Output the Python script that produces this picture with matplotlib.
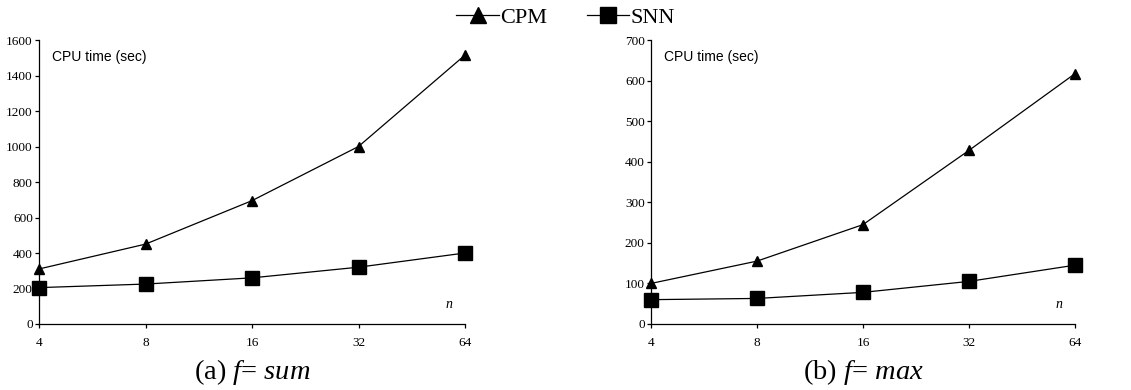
import matplotlib
matplotlib.use("Agg")
import matplotlib.pyplot as plt
from matplotlib.lines import Line2D

n_labels = ["4", "8", "16", "32", "64"]
cpm_sum = [310, 450, 695, 1000, 1515]
snn_sum = [205, 225, 260, 320, 400]
cpm_max = [100, 155, 245, 428, 617]
snn_max = [60, 63, 78, 105, 145]

serif = "Liberation Serif"
sans = "Liberation Sans"
plt.rcParams["mathtext.fontset"] = "custom"
plt.rcParams["mathtext.rm"] = "Liberation Serif"
plt.rcParams["mathtext.it"] = "Liberation Serif:italic"

fig = plt.figure(figsize=(11.31, 3.90), dpi=100)
axA = fig.add_axes([39/1131, 1-324/390, (465-39)/1131, (324-40)/390])
axB = fig.add_axes([651/1131, 1-324/390, (1075-651)/1131, (324-40)/390])

def draw(ax, cpm, snn, ymax, ystep, caption):
    x = list(range(len(n_labels)))
    ax.plot(x, cpm, color="black", lw=0.9, marker="^", ms=7, mfc="black", mec="black", clip_on=False, zorder=3)
    ax.plot(x, snn, color="black", lw=0.9, marker="s", ms=9.5, mfc="black", mec="black", clip_on=False, zorder=3)
    ax.set_xlim(0, len(n_labels)-1)
    ax.set_ylim(0, ymax)
    ax.set_xticks(x)
    ax.set_xticklabels(n_labels, fontfamily=serif, fontsize=9.5)
    ax.set_yticks(list(range(0, ymax+1, ystep)))
    ax.set_yticklabels([str(v) for v in range(0, ymax+1, ystep)], fontfamily=serif, fontsize=9.5)
    for s in ["top", "right"]:
        ax.spines[s].set_visible(False)
    for s in ["left", "bottom"]:
        ax.spines[s].set_linewidth(0.9)
    ax.tick_params(axis="y", direction="out", length=3, width=0.9, pad=1.5)
    ax.tick_params(axis="x", direction="out", length=3, width=0.9, pad=6)
    ax.text(0.03, 0.94, "CPU time (sec)", transform=ax.transAxes, fontfamily=sans, fontsize=10, va="center", ha="left")
    ax.text(0.97, 0.07, "n", transform=ax.transAxes, fontfamily=serif, fontstyle="italic", fontsize=10, va="center", ha="right")
    ax.text(0.5, -0.17, caption, transform=ax.transAxes, fontfamily=serif, fontsize=20.5, ha="center", va="center")

draw(axA, cpm_sum, snn_sum, 1600, 200, r"(a) $f$= $sum$")
draw(axB, cpm_max, snn_max, 700, 100, r"(b) $f$= $max$")

handles = [Line2D([0], [0], color="black", lw=0.9, marker="^", ms=11, mfc="black"),
           Line2D([0], [0], color="black", lw=0.9, marker="s", ms=11, mfc="black")]
fig.legend(handles, ["CPM", "SNN"], loc="center", bbox_to_anchor=(0.5, 0.955), ncol=2, frameon=False,
           prop={"family": serif, "size": 16}, handlelength=1.9, handletextpad=0.05, columnspacing=1.8)

fig.savefig("out.png", dpi=100)
